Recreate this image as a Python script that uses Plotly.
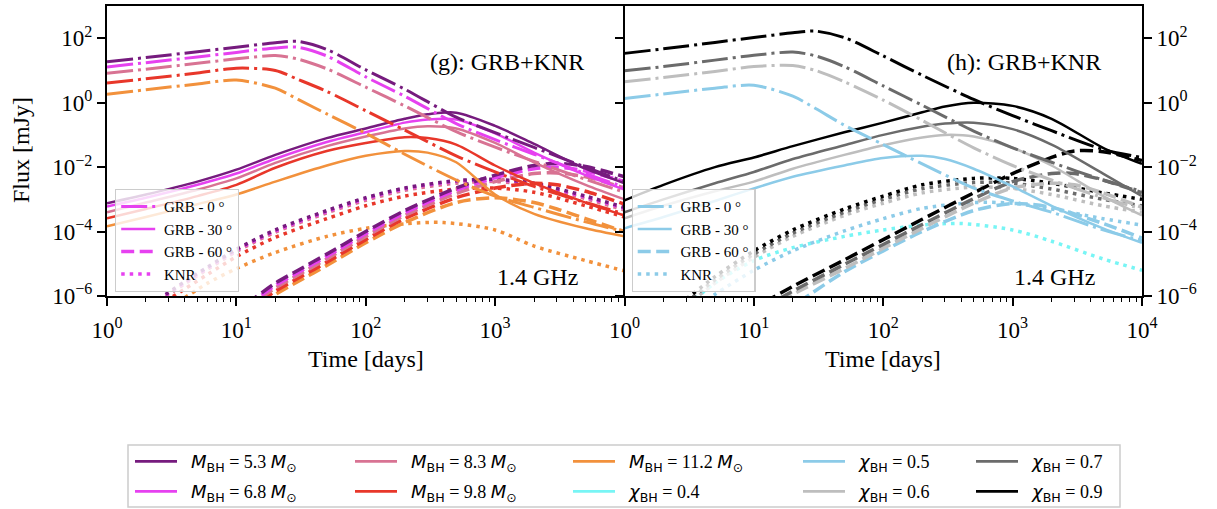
import plotly.graph_objects as go

# ---------------- data (log10 of flux in mJy) ----------------
# Left panel (g): M_BH series
t_L_grb0 = [1, 2, 5, 10, 20, 30, 50, 100, 200, 500, 1000, 2000, 5000, 10000]
L0_m53 = [1.27, 1.40, 1.58, 1.72, 1.86, 1.90, 1.65, 1.02, 0.42, -0.45, -0.93, -1.39, -2.00, -2.45]
L0_m68 = [1.11, 1.24, 1.42, 1.56, 1.70, 1.72, 1.45, 0.80, 0.20, -0.65, -1.15, -1.60, -2.20, -2.62]
L0_m83 = [0.91, 1.04, 1.22, 1.36, 1.46, 1.35, 1.05, 0.48, -0.10, -0.90, -1.38, -1.82, -2.38, -2.78]
L0_m98 = [0.61, 0.74, 0.92, 1.07, 1.00, 0.72, 0.35, -0.25, -0.85, -1.65, -2.15, -2.60, -3.10, -3.45]
L0_m112 = [0.26, 0.40, 0.58, 0.70, 0.45, 0.10, -0.35, -0.95, -1.60, -2.40, -2.90, -3.25, -3.70, -4.00]

t_L_grb30 = [1, 2, 5, 10, 20, 50, 100, 200, 300, 500, 1000, 2000, 5000, 10000]
L30_m53 = [-3.12, -2.85, -2.45, -2.08, -1.62, -1.10, -0.80, -0.50, -0.36, -0.31, -0.72, -1.28, -2.05, -2.50]
L30_m68 = [-3.22, -2.95, -2.55, -2.20, -1.74, -1.22, -0.92, -0.62, -0.52, -0.52, -0.95, -1.55, -2.25, -2.70]
L30_m83 = [-3.40, -3.10, -2.70, -2.35, -1.87, -1.35, -1.05, -0.80, -0.73, -0.80, -1.25, -1.85, -2.55, -3.00]
L30_m98 = [-3.59, -3.30, -2.90, -2.55, -2.02, -1.50, -1.25, -1.07, -1.10, -1.30, -1.95, -2.50, -3.10, -3.50]
L30_m112 = [-3.84, -3.55, -3.15, -2.85, -2.45, -1.95, -1.65, -1.50, -1.55, -1.85, -2.85, -3.45, -3.90, -4.15]

t_L_grb60 = [12, 20, 30, 50, 100, 200, 500, 1000, 2000, 3000, 5000, 10000]
L60_m53 = [-6.25, -5.60, -5.20, -4.70, -4.00, -3.35, -2.65, -2.25, -1.95, -1.88, -1.98, -2.30]
L60_m68 = [-6.32, -5.67, -5.27, -4.77, -4.07, -3.42, -2.72, -2.33, -2.05, -2.00, -2.12, -2.45]
L60_m83 = [-6.40, -5.75, -5.35, -4.85, -4.15, -3.50, -2.82, -2.45, -2.20, -2.18, -2.30, -2.65]
L60_m98 = [-6.50, -5.85, -5.45, -4.95, -4.25, -3.60, -2.95, -2.65, -2.50, -2.55, -2.75, -3.15]
L60_m112 = [-6.60, -5.95, -5.55, -5.05, -4.35, -3.72, -3.10, -2.95, -3.10, -3.30, -3.60, -4.00]

t_L_knr = [2.5, 4, 6, 10, 20, 50, 100, 200, 500, 1000, 2000, 5000, 10000]
LK_m53 = [-6.10, -5.55, -5.10, -4.55, -3.95, -3.35, -2.95, -2.65, -2.42, -2.38, -2.50, -2.90, -3.25]
LK_m68 = [-6.12, -5.58, -5.13, -4.58, -3.98, -3.38, -2.98, -2.67, -2.44, -2.40, -2.52, -2.93, -3.28]
LK_m83 = [-6.16, -5.62, -5.17, -4.62, -4.02, -3.42, -3.03, -2.72, -2.50, -2.45, -2.57, -2.98, -3.33]
LK_m98 = [-6.30, -5.78, -5.33, -4.78, -4.18, -3.60, -3.20, -2.90, -2.68, -2.65, -2.78, -3.20, -3.55]
t_L_knr_m112 = [4, 6, 10, 20, 50, 100, 200, 400, 1000, 2000, 5000, 10000]
LK_m112 = [-6.05, -5.60, -5.15, -4.65, -4.15, -3.90, -3.76, -3.72, -3.95, -4.45, -4.90, -5.22]

# Right panel (h): chi_BH series
t_R_grb0 = [1, 2, 5, 10, 20, 30, 50, 100, 200, 500, 1000, 2000, 5000, 10000]
R0_c05 = [0.13, 0.27, 0.45, 0.54, 0.20, -0.18, -0.70, -1.30, -1.90, -2.65, -3.05, -3.40, -3.95, -4.28]
R0_c06 = [0.65, 0.78, 0.97, 1.12, 1.15, 1.00, 0.65, 0.08, -0.55, -1.40, -1.95, -2.40, -2.95, -3.30]
R0_c07 = [0.99, 1.12, 1.32, 1.47, 1.57, 1.45, 1.12, 0.52, -0.08, -0.88, -1.40, -1.85, -2.40, -2.75]
R0_c09 = [1.53, 1.67, 1.87, 2.02, 2.17, 2.22, 2.02, 1.45, 0.85, 0.10, -0.40, -0.87, -1.45, -1.70]

t_R_grb30 = [1, 2, 5, 10, 20, 50, 100, 200, 300, 500, 1000, 2000, 5000, 10000]
R30_c05 = [-3.90, -3.55, -3.05, -2.66, -2.30, -1.95, -1.72, -1.65, -1.75, -2.05, -2.60, -3.20, -3.90, -4.35]
R30_c06 = [-3.59, -3.20, -2.75, -2.45, -2.05, -1.62, -1.32, -1.08, -1.00, -1.05, -1.40, -1.95, -2.90, -3.50]
R30_c07 = [-3.40, -3.00, -2.50, -2.15, -1.75, -1.32, -1.00, -0.75, -0.65, -0.62, -0.82, -1.30, -2.20, -2.90]
R30_c09 = [-3.03, -2.55, -2.00, -1.70, -1.35, -0.92, -0.62, -0.30, -0.12, 0.00, -0.10, -0.50, -1.40, -1.90]

t_R_grb60 = [12, 20, 50, 100, 200, 500, 1000, 2000, 3000, 5000, 10000]
R60_c06 = [-6.45, -5.95, -5.15, -4.52, -3.90, -3.12, -2.65, -2.50, -2.55, -2.80, -3.25]
R60_c07 = [-6.35, -5.85, -5.02, -4.40, -3.78, -2.98, -2.45, -2.20, -2.20, -2.40, -2.80]
R60_c09 = [-6.20, -5.70, -4.88, -4.25, -3.62, -2.80, -2.20, -1.70, -1.50, -1.52, -1.80]
t_R_grb60_c05 = [22, 50, 100, 200, 500, 1000, 2000, 5000, 10000]
R60_c05 = [-6.20, -5.25, -4.60, -4.00, -3.35, -3.13, -3.25, -3.75, -4.20]

t_R_knr = [3, 5, 10, 20, 50, 100, 200, 500, 1000, 2000, 5000, 10000]
RK_c05 = [-6.60, -5.95, -5.20, -4.60, -3.98, -3.60, -3.28, -3.10, -3.12, -3.30, -3.60, -3.80]
RK_c06 = [-6.30, -5.60, -4.80, -4.15, -3.50, -3.12, -2.80, -2.62, -2.66, -2.85, -3.20, -3.40]
RK_c07 = [-6.20, -5.50, -4.70, -4.05, -3.40, -3.00, -2.67, -2.48, -2.50, -2.68, -3.00, -3.20]
RK_c09 = [-6.10, -5.40, -4.60, -3.95, -3.30, -2.90, -2.55, -2.35, -2.35, -2.50, -2.80, -3.00]
t_R_knr_c04 = [3.5, 5, 10, 20, 50, 100, 200, 400, 1000, 2000, 5000, 10000]
RK_c04 = [-6.10, -5.60, -4.90, -4.50, -4.15, -3.95, -3.80, -3.75, -3.95, -4.30, -4.85, -5.20]

# tick labels
x_tickvals = [1, 10, 100, 1000, 10000]
x_ticktext_left = ["10<sup>0</sup>", "10<sup>1</sup>", "10<sup>2</sup>", "10<sup>3</sup>", ""]
x_ticktext_right = ["10<sup>0</sup>", "10<sup>1</sup>", "10<sup>2</sup>", "10<sup>3</sup>", "10<sup>4</sup>"]
y_tickvals = [1e-6, 1e-4, 1e-2, 1, 1e2]
y_ticktext = ["10<sup>\u22126</sup>", "10<sup>\u22124</sup>", "10<sup>\u22122</sup>", "10<sup>0</sup>", "10<sup>2</sup>"]
x_minor = [m * 10 ** d for d in range(4) for m in range(2, 10)]

# legend labels (math symbols in sans, numbers in serif)
SANS_I = "<span style='font-family:DejaVu Sans;font-style:italic'>{}</span>"
SANS_SUB = "<sub><span style='font-family:DejaVu Sans;font-style:normal'>{}</span></sub>"
SERIF_T = "<span style='font-family:Liberation Serif;font-style:normal'>{}</span>"
M_BH = SANS_I.format("M") + SANS_SUB.format("BH")
M_SUN = SANS_I.format("M") + SANS_SUB.format("\u2299")
CHI_BH = SANS_I.format("\u03c7") + SANS_SUB.format("BH")
lab_m53 = M_BH + SERIF_T.format(" = 5.3 ") + M_SUN
lab_m68 = M_BH + SERIF_T.format(" = 6.8 ") + M_SUN
lab_m83 = M_BH + SERIF_T.format(" = 8.3 ") + M_SUN
lab_m98 = M_BH + SERIF_T.format(" = 9.8 ") + M_SUN
lab_m112 = M_BH + SERIF_T.format(" = 11.2 ") + M_SUN
lab_c04 = CHI_BH + SERIF_T.format(" = 0.4")
lab_c05 = CHI_BH + SERIF_T.format(" = 0.5")
lab_c06 = CHI_BH + SERIF_T.format(" = 0.6")
lab_c07 = CHI_BH + SERIF_T.format(" = 0.7")
lab_c09 = CHI_BH + SERIF_T.format(" = 0.9")
style_labels = ["GRB - 0 \u00b0", "GRB - 30 \u00b0", "GRB - 60 \u00b0", "KNR"]

# ---------------- styling ----------------
C_PURPLE = "#761b7e"
C_MAGENTA = "#e641f0"
C_PINK = "#d87393"
C_RED = "#e8372a"
C_ORANGE = "#f2913c"
C_CYAN = "#78f5f5"
C_SKY = "#8ccbe8"
C_SILVER = "#bebebe"
C_GRAY = "#6b6b6b"
C_BLACK = "#000000"

DASHDOT = "26px,5px,3px,5px"
DASHED = "13px,5.5px"
DOTTED = "3.5px,5px"
STYLES = {"dd": (DASHDOT, 3.0), "solid": ("solid", 2.5), "dash": (DASHED, 3.5), "dot": (DOTTED, 3.5)}

W, H = 1217, 509
ML, MR, MT, MB = 107, 75, 6, 213
PW = W - ML - MR
PH = H - MT - MB
SERIF = "Liberation Serif"


def px(xp):
    return (xp - ML) / PW


def py(yp):
    return (H - MB - yp) / PH


fig = go.Figure()


def add(t, logf, color, style, panel):
    dash, width = STYLES[style]
    xa, ya = ("x", "y") if panel == 0 else ("x2", "y2")
    fig.add_trace(go.Scatter(
        x=t, y=[10 ** v for v in logf], mode="lines",
        line=dict(color=color, dash=dash, width=width, shape="spline", smoothing=0.8),
        xaxis=xa, yaxis=ya, showlegend=False, hoverinfo="skip"))


left_series = [
    (C_ORANGE, L0_m112, L30_m112, L60_m112, LK_m112, t_L_knr_m112),
    (C_RED, L0_m98, L30_m98, L60_m98, LK_m98, t_L_knr),
    (C_PINK, L0_m83, L30_m83, L60_m83, LK_m83, t_L_knr),
    (C_MAGENTA, L0_m68, L30_m68, L60_m68, LK_m68, t_L_knr),
    (C_PURPLE, L0_m53, L30_m53, L60_m53, LK_m53, t_L_knr),
]
for col, a, b, c, d, tk in left_series:
    add(tk, d, col, "dot", 0)
for col, a, b, c, d, tk in left_series:
    add(t_L_grb60, c, col, "dash", 0)
for col, a, b, c, d, tk in left_series:
    add(t_L_grb30, b, col, "solid", 0)
for col, a, b, c, d, tk in left_series:
    add(t_L_grb0, a, col, "dd", 0)

# right panel
add(t_R_knr_c04, RK_c04, C_CYAN, "dot", 1)
right_series = [
    (C_SKY, R0_c05, R30_c05, R60_c05, t_R_grb60_c05, RK_c05),
    (C_SILVER, R0_c06, R30_c06, R60_c06, t_R_grb60, RK_c06),
    (C_GRAY, R0_c07, R30_c07, R60_c07, t_R_grb60, RK_c07),
    (C_BLACK, R0_c09, R30_c09, R60_c09, t_R_grb60, RK_c09),
]
for col, a, b, c, tc, d in right_series:
    add(t_R_knr, d, col, "dot", 1)
for col, a, b, c, tc, d in right_series:
    add(tc, c, col, "dash", 1)
for col, a, b, c, tc, d in right_series:
    add(t_R_grb30, b, col, "solid", 1)
for col, a, b, c, tc, d in right_series:
    add(t_R_grb0, a, col, "dd", 1)

# inner legends (line styles)
for lg, col, xa, ya in [("legend2", C_MAGENTA, "x", "y"), ("legend3", C_SKY, "x2", "y2")]:
    for name, st in zip(style_labels, ["dd", "solid", "dash", "dot"]):
        dash, width = STYLES[st]
        fig.add_trace(go.Scatter(x=[None], y=[None], mode="lines", name="\u00a0" + name,
                                 line=dict(color=col, dash=dash, width=width),
                                 xaxis=xa, yaxis=ya, legend=lg, showlegend=True))

# bottom colour legend: one small legend per entry
bottom_entries = [
    (lab_m53, C_PURPLE, 135, 461.7), (lab_m68, C_MAGENTA, 135, 491.7),
    (lab_m83, C_PINK, 355, 461.7), (lab_m98, C_RED, 355, 491.7),
    (lab_m112, C_ORANGE, 573, 461.7), (lab_c04, C_CYAN, 573, 491.7),
    (lab_c05, C_SKY, 803, 461.7), (lab_c06, C_SILVER, 803, 491.7),
    (lab_c07, C_GRAY, 976, 461.7), (lab_c09, C_BLACK, 976, 491.7),
]
legend_layouts = {}
for i, (lab, col, lx, ly) in enumerate(bottom_entries):
    lg = f"legend{i + 4}"
    fig.add_trace(go.Scatter(x=[None], y=[None], mode="lines", name="\u00a0\u00a0" + lab,
                             line=dict(color=col, width=2.6), xaxis="x", yaxis="y",
                             legend=lg, showlegend=True))
    legend_layouts[lg] = dict(x=px(lx - 5), y=py(ly), xanchor="left", yanchor="middle",
                              bgcolor="rgba(0,0,0,0)", borderwidth=0, itemwidth=42,
                              font=dict(family=SERIF, size=18, color="black"))

axis_font = dict(family=SERIF, size=23, color="black")
xbase = dict(type="log", range=[0, 4], showline=True, linecolor="black", linewidth=2,
             mirror=True, ticks="outside", ticklen=8, tickwidth=1.8, tickcolor="black",
             showgrid=False, zeroline=False, tickmode="array", tickvals=x_tickvals,
             tickfont=axis_font, ticklabelstandoff=4,
             minor=dict(ticks="outside", ticklen=4, tickwidth=1.2, tickcolor="black",
                        tickmode="array", tickvals=x_minor, showgrid=False))
ybase = dict(type="log", range=[-6, 3], showline=True, linecolor="black", linewidth=2,
             ticks="outside", ticklen=8, tickwidth=1.8, tickcolor="black",
             showgrid=False, zeroline=False, tickmode="array", tickvals=y_tickvals,
             ticktext=y_ticktext, tickfont=axis_font)

inner_legend = dict(xanchor="left", yanchor="top", bgcolor="rgba(255,255,255,0.8)",
                    bordercolor="#cccccc", borderwidth=1.2, itemwidth=34,
                    font=dict(family=SERIF, size=15, color="black"))

fig.update_layout(
    width=W, height=H,
    margin=dict(l=ML, r=MR, t=MT, b=MB, autoexpand=False),
    paper_bgcolor="white", plot_bgcolor="white", showlegend=True,
    xaxis=dict(xbase, domain=[0, 0.5], anchor="y", ticktext=x_ticktext_left),
    xaxis2=dict(xbase, domain=[0.5, 1], anchor="y2", ticktext=x_ticktext_right),
    yaxis=dict(ybase, anchor="x", mirror=False),
    yaxis2=dict(ybase, anchor="x2", side="right", mirror="ticks"),
    legend2=dict(inner_legend, x=px(115), y=py(189)),
    legend3=dict(inner_legend, x=px(631.5), y=py(189)),
    **legend_layouts,
)

fig.add_shape(type="rect", xref="paper", yref="paper", x0=px(128), x1=px(1120),
              y0=py(445), y1=py(507), line=dict(color="#cccccc", width=1.5),
              fillcolor="white", layer="below")

ann_font = dict(family=SERIF, size=24, color="black")
for text, xx, yy in [("(g): GRB+KNR", 507, 62), ("(h): GRB+KNR", 1024, 62),
                     ("1.4 GHz", 537, 277), ("1.4 GHz", 1054, 277),
                     ("Time [days]", 366, 359), ("Time [days]", 883, 359)]:
    fig.add_annotation(text=text, x=px(xx), y=py(yy), xref="paper", yref="paper",
                       xanchor="center", yanchor="middle", showarrow=False, font=ann_font)
fig.add_annotation(text="Flux [mJy]", x=px(21), y=py(150), xref="paper", yref="paper",
                   xanchor="center", yanchor="middle", showarrow=False, textangle=-90,
                   font=ann_font)

fig.write_html("out.html")
